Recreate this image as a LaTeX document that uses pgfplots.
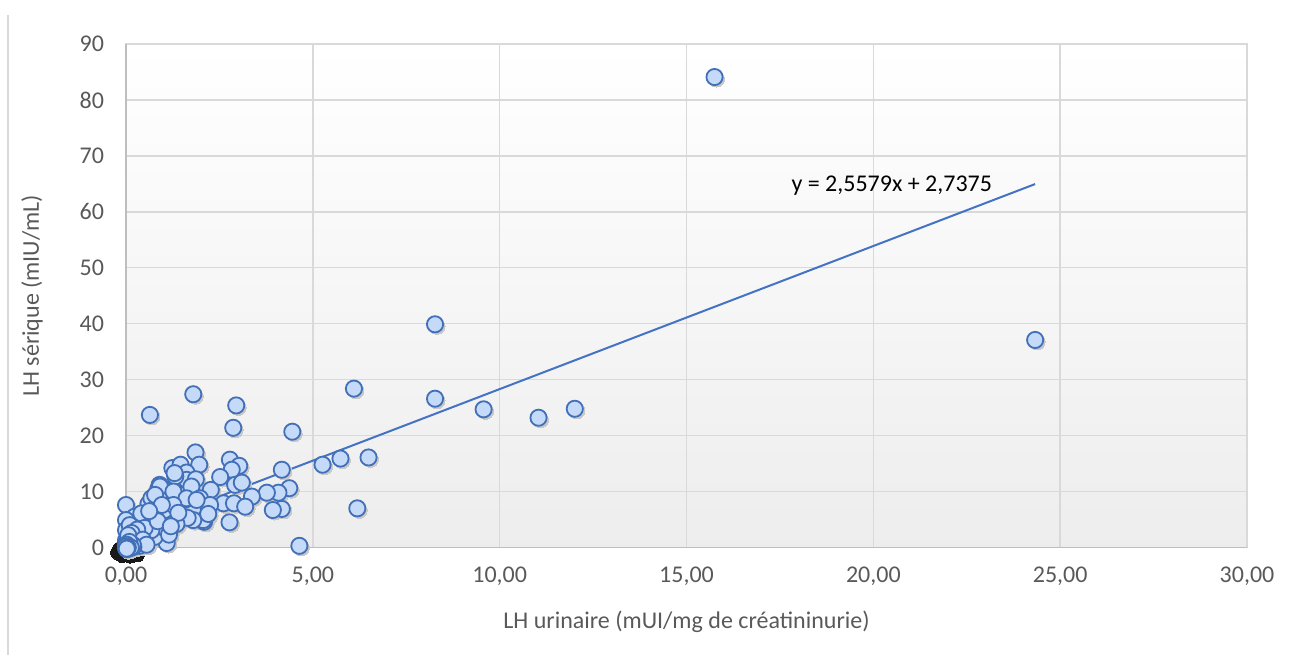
\documentclass[border=0pt]{standalone}
\usepackage{fontspec}
\setmainfont{Carlito}
\usepackage{pgfplots}
\usepackage{pgfplotstable}
\pgfplotsset{compat=1.18}

\definecolor{txtgray}{RGB}{89,89,89}
\definecolor{gridgray}{RGB}{217,217,217}
\definecolor{axgray}{RGB}{190,190,190}
\definecolor{ptfill}{RGB}{196,218,248}
\definecolor{ptedge}{RGB}{66,112,184}
\definecolor{trend}{RGB}{68,114,196}
\definecolor{shadow}{RGB}{200,200,200}

% LH urinaire / LH serique
\pgfplotstableread{
x y
15.75 84.1
24.33 37.1
8.27 39.9
8.27 26.6
9.57 24.7
11.04 23.2
12.01 24.8
6.10 28.4
4.45 20.7
5.26 14.8
5.74 15.9
6.49 16.1
6.19 7.0
4.64 0.3
4.37 10.6
4.17 13.9
4.17 6.9
3.93 6.7
4.08 9.8
3.77 9.8
3.37 9.1
0.64 23.7
1.80 27.4
2.95 25.4
2.87 21.4
1.86 17.0
1.96 14.8
1.24 14.2
1.46 14.8
1.62 13.4
1.62 12.1
1.32 12.7
1.87 12.2
2.78 15.7
3.03 14.6
2.83 13.9
2.52 12.6
2.92 11.2
3.10 11.6
2.27 10.3
0.86 10.4
2.61 7.9
2.89 7.9
3.19 7.3
2.12 7.3
2.09 4.6
2.77 4.5
0.00 7.6
0.60 7.8
1.09 0.8
0.36 0.3
0.00 0.3
0.90 11.2
1.30 13.3
1.44 9.4
1.26 7.9
1.04 6.7
0.77 5.5
0.54 5.2
0.23 5.5
0.00 4.9
0.00 3.1
0.00 1.3
0.37 0.8
0.77 1.9
1.17 3.1
0.95 3.7
0.68 3.1
0.41 2.5
0.19 1.9
0.10 4.0
1.75 10.9
1.79 6.7
1.57 8.5
1.04 10.3
0.68 8.8
0.41 6.1
0.91 10.9
0.78 9.4
1.27 10.0
1.62 8.8
1.98 8.8
1.27 7.6
0.96 7.6
2.25 7.6
1.89 8.5
2.07 4.9
1.80 4.9
2.20 6.0
1.50 5.3
1.65 5.3
1.35 4.2
1.15 2.3
1.40 6.2
0.50 3.5
0.30 3.2
0.85 4.7
0.15 2.6
0.25 0.9
0.45 1.4
1.20 3.8
0.62 6.5
0.55 0.5
0.02 0.1
0.05 0.4
0.08 0.0
0.03 0.8
0.10 0.2
0.12 0.6
0.04 1.6
0.06 2.2
0.15 0.3
0.01 0.0
0.07 -0.2
0.02 -0.3
0.20 0.1
0.18 0.5
0.09 1.0
0.03 0.2
0.05 -0.1
0.11 -0.1
0.04 0.0
0.06 0.1
0.02 0.5
0.13 0.0
0.00 0.0
0.01 -0.1
0.03 0.1
0.00 0.2
0.05 0.0
0.02 -0.2
}\lhdata

% points stacked at the origin (their shadows pile up into a dark blot)
\pgfplotstableread{
x y
-0.22 -0.9
-0.10 -1.4
0.12 -1.5
0.30 -1.3
-0.15 -0.2
}\origin

\begin{document}
\begin{tikzpicture}
\useasboundingbox (-63pt,-53.75pt) rectangle (584.5pt,273.75pt);
\draw[gridgray, line width=0.7pt] (-59pt,-53.75pt) -- (-59pt,266.25pt);
\begin{axis}[
    scale only axis,
    width=560.5pt, height=251.75pt,
    xmin=0, xmax=30, ymin=0, ymax=90,
    xtick={0,5,...,30}, ytick={0,10,...,90},
    clip=false,
    grid=major,
    grid style={gridgray, line width=0.7pt},
    axis line style={gridgray, line width=0.7pt},
    major tick length=0pt,
    axis background/.style={top color=white, bottom color=black!7},
    /pgf/number format/assume math mode=true,
    tick label style={font=\fontsize{12}{14}\selectfont, text=txtgray},
    xticklabel style={/pgf/number format/.cd, fixed, fixed zerofill, precision=2, use comma, /tikz/.cd, yshift=-6pt},
    yticklabel style={xshift=-7.5pt},
    label style={font=\fontsize{12}{14}\selectfont, text=txtgray},
    xlabel={LH urinaire (mUI/mg de créatininurie)},
    ylabel={LH sérique (mIU/mL)},
    xlabel style={at={(axis description cs:0.5,-0.147)}, anchor=center},
    ylabel style={at={(axis description cs:-0.0839,0.5)}, anchor=center, rotate=0},
]
\draw[axgray, line width=0.8pt] (rel axis cs:0,1) -- (rel axis cs:0,0) -- (rel axis cs:1,0);
% dark blot of stacked shadows
\addplot[black!90, only marks, mark=*, mark size=3.6pt,
    mark options={draw=black!90, fill=black!90, line width=0pt}]
    table[x=x, y=y] {\origin};
% shadows
\addplot[shadow, only marks, mark=*, mark size=4.0pt,
    mark options={draw=shadow, fill=shadow, line width=0pt, xshift=1pt, yshift=-1pt}]
    table[x=x, y=y] {\lhdata};
% points
\addplot[ptedge, only marks, mark=*, mark size=4.05pt,
    mark options={fill=ptfill, draw=ptedge, line width=0.9pt}]
    table[x=x, y=y] {\lhdata};
% trend line
\addplot[trend, line width=1pt, no marks] coordinates {(0,2.7375) (24.33,64.97)};
\node[anchor=west, text=black, font=\fontsize{12}{14}\selectfont, inner sep=0pt]
    at (axis cs:17.8,64.7) {y = 2,5579x + 2,7375};
\end{axis}
\end{tikzpicture}
\end{document}
